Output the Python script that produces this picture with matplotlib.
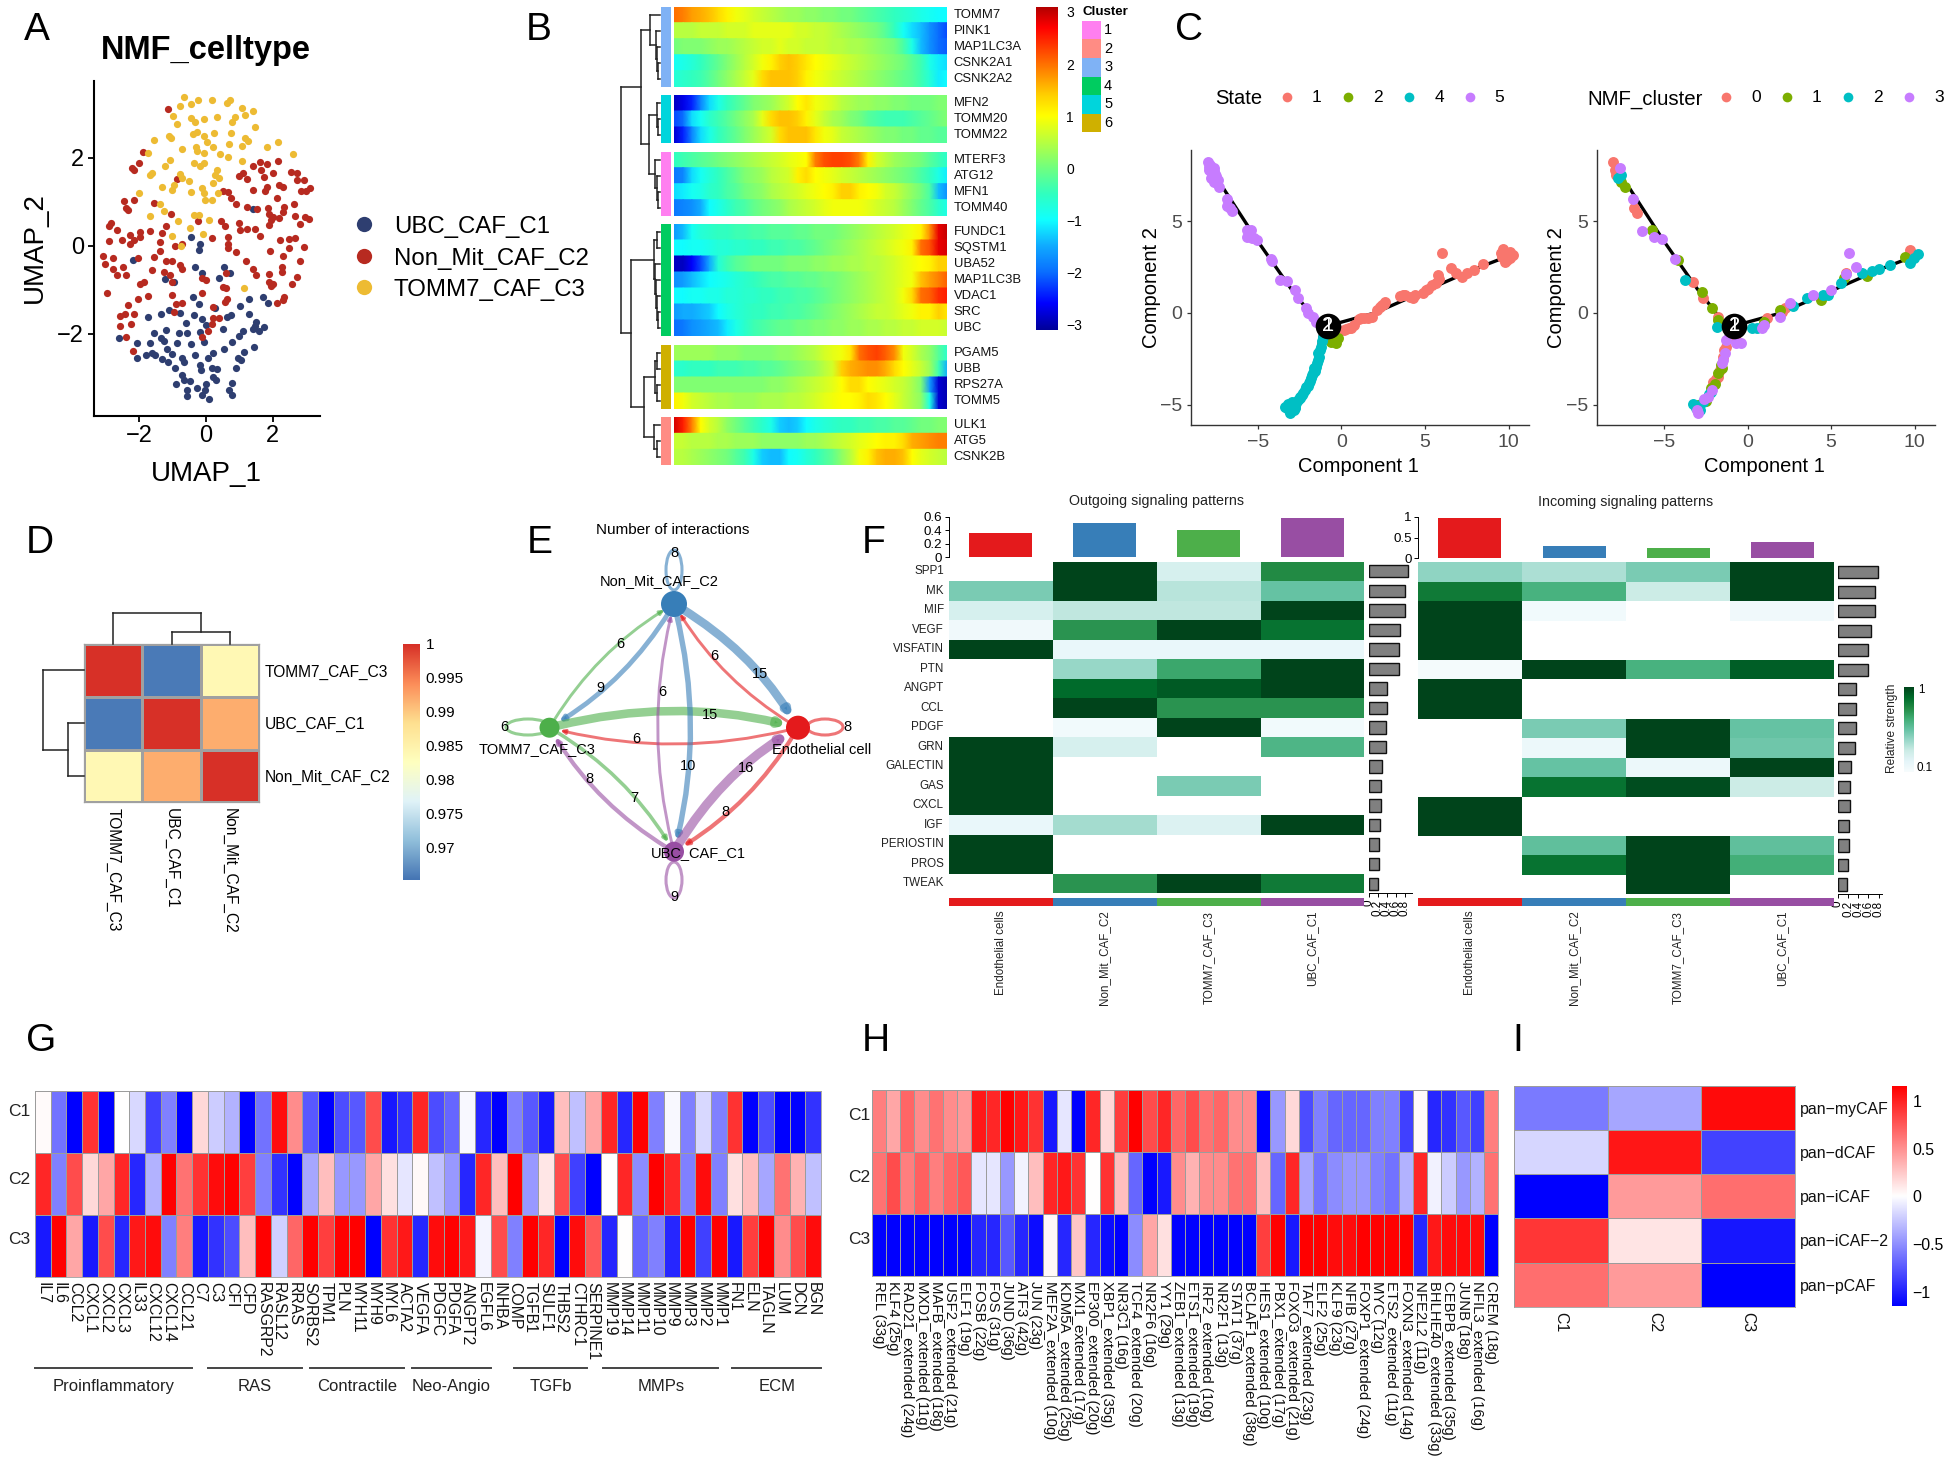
import numpy as np
import matplotlib
matplotlib.use('Agg')
import matplotlib.pyplot as plt
from matplotlib.colors import LinearSegmentedColormap, ListedColormap
from matplotlib.patches import FancyArrowPatch, Ellipse, Rectangle

plt.rcParams['font.family'] = ['Liberation Sans', 'DejaVu Sans']

W, H = 1949, 1464

# ---------- panel A ----------
umap_blue_x = [1.41,-.44,-.17,-.22,-2.17,-.33,-.13,.54,.38,.72,-1.22,-.96,-.40,1.70,1.29,1.86,-.22,1.01,-1.10,-1.35,-.77,-.37,1.29,-1.73,.28,.64,.76,-.11,-.60,-.01,1.50,1.47,1.74,1.41,1.59,.52,1.11,.99,-1.20,-1.55,-.80,-.58,-.19,-2.59,-1.34,-1.25,-2.06,-1.67,-.86,-.45,-.05,.79,-1.17,.53,1.43,-1.02,1.14,.22,-2.05,-1.79,-1.61,-1.52,-1.31,-1.14,-.72,-.66,-.34,.07,.97,1.05,-.92,-.19,-.15,.17,.34,.90,-.71,.22,.31,-.66,-.49,-.90,.77,.01,-.57,-.28,-.04,.70,-.57,-.13,.77,.08]
umap_blue_y = [.83,.19,.03,-.10,-.33,-.49,-.61,-.48,-.74,-.61,-.75,-.83,-1.16,-1.16,-1.22,-1.30,-1.33,-1.36,-1.46,-1.54,-1.52,-1.58,-1.54,-1.63,-1.42,-1.61,-1.58,-1.67,-1.75,-1.80,-1.73,-1.83,-1.84,-1.88,-1.93,-1.88,-1.93,-2.05,-1.92,-1.99,-1.98,-1.98,-1.97,-2.09,-2.09,-2.16,-2.20,-2.20,-2.22,-2.24,-2.18,-2.18,-2.35,-2.35,-2.30,-2.46,-2.41,-2.43,-2.56,-2.48,-2.43,-2.48,-2.58,-2.65,-2.56,-2.64,-2.48,-2.55,-2.54,-2.60,-2.78,-2.71,-2.83,-2.77,-2.81,-2.77,-2.94,-2.98,-3.04,-3.04,-3.07,-3.15,-3.11,-3.13,-3.27,-3.22,-3.27,-3.27,-3.42,-3.38,-3.39,-3.49]
umap_red_x = [-1.14,-1.88,-2.0,-2.22,-2.14,-.86,1.61,1.82,1.41,2.14,1.11,.99,1.23,1.64,1.74,2.0,2.53,2.73,2.71,2.92,2.18,2.30,1.82,1.76,1.41,3.10,2.85,3.0,.52,.67,.76,.90,2.12,2.63,-2.44,-2.14,-1.57,-2.38,-2.32,1.23,1.53,1.86,1.88,2.33,2.30,-1.05,2.0,2.18,1.94,1.88,2.65,2.95,3.09,2.80,-.25,.44,.58,.99,1.02,1.23,1.47,1.62,-2.85,-2.91,-2.67,-1.67,-1.96,-2.26,-1.96,-2.14,-2.89,-2.52,-2.26,-1.20,-1.31,-1.38,-.93,-.72,.19,.66,.67,.67,.91,2.2,2.47,2.65,2.47,2.92,1.91,2.30,2.80,1.20,-3.07,-2.79,-3.01,-2.79,-2.47,-2.67,-2.38,-2.02,-1.57,-1.37,-1.20,-1.02,-1.61,-.78,-.72,-1.25,-1.08,-1.87,-1.96,-1.02,-.13,-.01,.60,1.41,1.50,1.88,2.26,2.26,2.73,2.57,1.88,2.0,1.94,.52,.60,-2.97,-1.73,-2.02,-1.02,-.13,.64,.58,-2.32,-.72,-.90,2.33,2.30,2.12,.22,-.96,-2.58,-2.41,-2.14,-2.56,-2.24,-2.38,.22,.40,.17,.05,-.13,-2.17]
umap_red_y = [3.11,2.12,1.87,1.76,1.72,1.51,1.91,1.86,1.82,1.92,1.64,1.58,1.51,1.72,1.57,1.64,1.68,1.64,1.49,1.49,1.38,1.33,1.34,1.25,1.27,1.30,1.25,1.25,1.24,1.23,1.08,.95,1.08,.95,1.02,1.04,.98,.85,.80,.89,.83,.85,.73,.89,.77,.71,.66,.62,.58,.47,.67,.66,.60,.49,.57,.55,.45,.51,.36,.39,.37,.22,.52,.45,.36,.33,.30,.25,.19,.14,.11,.13,.03,.45,.28,.09,0,.05,.17,.2,.05,-.06,-.14,.14,.16,.17,-.06,-.04,-.11,-.23,-.34,-.34,-.23,-.27,-.42,-.52,-.49,-.67,-.67,-.29,-.25,-.11,-.34,-.34,-.55,-.44,-.54,-.59,-.67,-.82,-.86,-.82,-.74,-.77,-.63,-.52,-.67,-.64,-.48,-.59,-.72,-.86,-.82,-.86,-.92,-.93,-.97,-1.08,-1.14,-1.22,-1.12,-1.08,-1.2,-1.27,-1.35,-1.30,-1.33,-1.16,-1.23,-1.30,-1.39,-1.50,-1.60,-1.56,-1.55,-1.83,-1.78,-2.08,-1.65,-1.65,-1.77,-1.94,-2.08,-2.39]
umap_yellow_x = [-.66,-.78,-.46,-.25,.17,.62,.72,1.08,1.41,1.17,-.99,-.86,-.46,-.34,-.07,.34,.88,.79,1.47,-.40,-.27,.25,.76,-1.10,-1.04,-1.55,-.05,.02,.20,-.31,.70,1.17,1.27,1.08,1.81,2.15,-.72,-.28,-.05,.41,.67,1.08,2.60,-1.74,-1.09,-.37,-.06,-.19,-1.22,.32,.28,-1.69,-1.61,-.79,-.72,-.51,.40,.22,-1.31,-.96,-1.02,-2.0,-.44,-.11,-.07,.37,-1.37,-.04,.17,-1.25,-1.69,-.37,-.21,-.84,.08,-.49,-.08,-1.02,-.75,1.15]
umap_yellow_y = [3.37,3.18,3.21,3.31,3.30,3.23,3.31,3.12,3.05,2.97,2.95,2.77,2.89,2.81,2.88,2.92,2.92,2.82,2.70,2.54,2.58,2.55,2.55,2.49,2.45,2.39,2.48,2.36,2.23,2.25,2.31,2.44,2.37,2.27,2.23,2.36,2.19,2.14,2.11,2.08,2.02,1.92,2.08,2.11,1.94,1.87,1.87,1.82,1.80,1.72,1.61,1.61,1.66,1.63,1.53,1.48,1.53,1.43,1.34,1.38,1.27,1.20,1.21,1.30,1.19,1.20,.95,1.04,1.04,.78,.67,.70,.70,.56,.58,.41,.27,.22,-.01,-.97]
umap_names = ['UBC_CAF_C1', 'Non_Mit_CAF_C2', 'TOMM7_CAF_C3']
umap_colors = ['#2E3E70', '#B72A20', '#EDBB33']

# ---------- panel B ----------
pt_genes = ['TOMM7','PINK1','MAP1LC3A','CSNK2A1','CSNK2A2','MFN2','TOMM20','TOMM22','MTERF3','ATG12','MFN1','TOMM40',
            'FUNDC1','SQSTM1','UBA52','MAP1LC3B','VDAC1','SRC','UBC','PGAM5','UBB','RPS27A','TOMM5','ULK1','ATG5','CSNK2B']
pt_values = [
 [2,1.9,1.7,1.6,1.5,1.3,1.1,.9,.8,.7,.6,.5,.4,.3,.3,.2,.2,.1,.1,0,0,-.1,-.2,-.3,-.4,-.5,-.6,-.7,-.8,-.9,-1,-1],
 [.5,.5,.5,.6,.6,.6,.7,.7,.7,.8,.8,.8,.8,.8,.7,.7,.6,.6,.5,.4,.3,.2,.1,0,-.2,-.5,-.9,-1.2,-1.4,-1.7,-2,-2.2],
 [0,.1,.1,.1,.2,.3,.3,.4,.5,.6,.7,.7,.8,.7,.7,.6,.6,.6,.5,.5,.4,.4,.3,.2,.1,0,-.3,-.8,-1.4,-1.7,-2,-2.1],
 [-.9,-.8,-.7,-.5,-.3,-.1,.1,.3,.5,.7,.9,1.1,1.4,1.5,1.4,1.2,1,.9,.8,.7,.6,.5,.4,.3,.2,.1,0,-.2,-.4,-.8,-1.1,-1.2],
 [-.7,-.6,-.5,-.4,-.2,0,.2,.4,.6,.8,1.3,1.5,1.5,1.5,1.4,1.1,.9,.8,.7,.6,.5,.4,.3,.2,.1,0,-.1,-.2,-.4,-.7,-1.1,-1],
 [-2.9,-2.7,-2.4,-1.8,-1.2,-.8,-.5,-.3,-.1,.1,.2,.3,.5,.7,1,1.2,.9,.8,.7,.5,.4,.3,.3,.2,.2,.1,.1,0,0,0,.1,.1],
 [-2.2,-2,-1.2,-.9,-.6,-.4,-.2,0,.2,.4,.8,1.3,1.5,1.5,1.4,1.1,.8,.6,.4,.3,.1,0,-.2,-.3,-.4,-.4,-.4,-.3,-.2,-.1,0,.1],
 [-2.8,-2.4,-1.8,-1.2,-.8,-.5,-.3,-.1,.1,.3,.5,.7,1.3,1.5,1.5,1.5,1.2,.9,.8,.6,.5,.4,.3,.2,.1,.1,0,0,-.1,-.1,-.2,-.2],
 [-.5,-.4,-.3,-.2,-.1,0,.1,.2,.3,.4,.5,.6,.7,.8,.9,1,1.9,2.2,2.3,2.3,2.2,1.9,1.1,.7,.5,.3,.2,.1,0,-.2,-.4,-.6],
 [-1.9,-1.8,-1.2,-.9,-.7,-.5,-.3,-.1,.1,.2,.3,.5,.6,.7,1.1,1.3,1,.9,.8,.7,.6,.5,.4,.3,.2,.1,0,-.1,-.3,-.5,-.8,-1.1],
 [-1.2,-1.1,-.9,-.8,-.6,-.5,-.3,-.2,0,.1,.2,.4,.5,.6,.7,.8,.9,1,1.1,1.4,1.4,1.1,1,.9,.7,.6,.4,.2,0,-.3,-1.4,-1.7],
 [-1.9,-1.8,-1.7,-1.5,-1,-.8,-.6,-.4,-.3,-.1,0,.1,.2,.4,.5,.6,.7,.8,.9,.9,.9,.9,.8,.7,.6,.5,.3,.1,-.1,-.3,-.6,-.8],
 [-1.6,-1.4,-.9,-.7,-.6,-.5,-.5,-.4,-.4,-.3,-.3,-.2,-.2,-.2,-.1,-.1,0,0,0,.1,.2,.3,.4,.5,.6,.7,.8,.9,1.1,1.8,2.8,3],
 [-1,-1,-.9,-.9,-.8,-.7,-.7,-.6,-.6,-.5,-.5,-.4,-.4,-.3,-.3,-.2,-.1,0,.1,.2,.3,.4,.5,.6,.7,.8,.9,1.1,2,2.2,2.8,2.9],
 [-2.9,-2.9,-2.6,-2.2,-1.5,-.7,-.4,-.2,-.1,0,0,0,0,.1,.1,.1,.2,.2,.3,.3,.4,.4,.5,.5,.6,.7,.8,.9,1,1.1,1.4,1.4],
 [-1.7,-1.6,-1.4,-1.2,-1,-.9,-.8,-.7,-.6,-.5,-.4,-.3,-.3,-.2,-.2,-.1,-.1,0,0,.1,.2,.3,.4,.5,.6,.7,.8,.9,1.5,1.7,1.9,2.1],
 [-1,-1,-.9,-.9,-.8,-.8,-.7,-.7,-.6,-.6,-.5,-.5,-.4,-.4,-.3,-.3,-.2,-.1,0,.1,.2,.3,.4,.5,.6,.7,.9,1.3,2,2.1,2.4,2.5],
 [-1.6,-1.5,-1.5,-1.4,-1.3,-1,-.8,-.7,-.6,-.5,-.5,-.4,-.4,-.3,-.3,-.2,-.1,0,.1,.2,.3,.4,.5,.6,.6,.7,.8,.9,1.1,1.1,1.4,1.2],
 [-2,-1.9,-1.7,-1.6,-1.5,-1.4,-1.1,-.8,-.6,-.4,-.3,-.2,-.1,-.1,0,0,.1,.1,.2,.2,.3,.3,.4,.4,.5,.5,.6,.6,.7,.7,.7,.6],
 [.3,.3,.3,.3,.3,.2,.2,.2,.1,.1,.1,.1,.2,.2,.3,.4,.5,.7,.8,.9,1.2,2,2.2,2.3,2.1,1.8,.9,.7,.4,.2,-.2,-.6],
 [-.6,-.6,-.5,-.5,-.5,-.4,-.4,-.4,-.3,-.3,-.2,-.2,-.1,0,.1,.2,.3,.5,.7,1.4,1.6,1.7,1.8,1.8,1.6,1.3,1,.8,.6,.3,-.4,-1.5],
 [.1,.1,.1,.1,.1,.1,.1,.1,.1,.1,.1,.2,.2,.3,.4,.5,.6,.7,.8,1,1.3,1.3,1,.9,.8,.7,.6,.4,.1,-1.6,-2.8,-3],
 [1.1,.9,.7,.6,.5,.4,.4,.3,.3,.3,.4,.4,.4,.5,.5,.6,.7,.8,.9,1,1,1.1,1.3,1.2,1,.8,.6,.4,.2,-.8,-2.8,-3],
 [2.9,2.5,1.9,1,.7,.5,.2,0,-.2,-.4,-.6,-.8,-1.3,-1.4,-1.3,-1,-.8,-.7,-.6,-.5,-.5,-.4,-.4,-.3,-.3,-.2,-.2,-.1,0,0,.1,.1],
 [.6,.6,.5,.5,.5,.4,.4,.3,.3,.3,.2,.2,.2,.2,.2,.3,.3,.4,.5,.6,.7,.8,.9,1,1.1,1.1,1.3,1.6,1.7,1.8,1.9,1.9],
 [.5,.5,.4,.3,.2,.1,0,-.2,-.4,-.8,-1.3,-1.4,-1.4,-1,-.9,-.7,-.5,-.3,-.1,.2,.5,.9,1.1,1.5,1.6,1.6,1.5,1,.8,.7,.6,.5],
]
pt_blocks = [(0, 5, 6.7, '#7FB2F5'), (5, 8, 95, '#00D5DC'), (8, 12, 151.7, '#FF7FF0'),
             (12, 19, 224, '#00CC60'), (19, 23, 345, '#CFB000'), (23, 26, 417.3, '#FF8C84')]
cluster_ids = ['1', '2', '3', '4', '5', '6']
cluster_cols = ['#FF7FF0', '#FF8C84', '#7FB2F5', '#00CC60', '#00D5DC', '#CFB000']
# merge heights are in figure pixels
pt_tree = (621.4,
           (641, (650, 0, (656.4, 1, (657.1, 2, (658.2, 3, 4)))),
            (649.3, (657.1, 5, (658.2, 6, 7)), (655.4, 8, (657.1, 9, (658.2, 10, 11))))),
           (631.4, (653.6, (657.1, 12, 13), (655.4, 14, (656.4, 15, (657.1, 16, (658.2, 17, 18))))),
            (643.6, (655.4, (657.1, 19, 20), (657.1, 21, 22)), (654.3, 23, (657.1, 24, 25)))))

# ---------- panel C ----------
state1_x = [.15,.46,.76,1.07,1.38,1.83,2.14,2.45,2.6,3.5,3.82,4.28,4.43,4.9,5.05,5.66,5.8,6.02,6.57,6.88,7.19,7.5,7.95,8.47,9.63,9.69,9.79,9.94,10.09,10.24,9.88,9.57,.3,.6,1.2,1.6,2.3,2.55,9.75,9.9,10.1,9.7,5.2,5.4,5.85,3.7,4.1]
state1_y = [-.93,-.84,-.65,-.35,-.29,-.2,.16,.44,.62,.9,.98,.8,.98,1.07,1.25,1.62,2.07,3.25,2.44,2.16,1.98,2.2,2.35,2.65,3.07,3.47,2.8,3.25,2.98,3.16,3.07,3.25,-.9,-.8,-.3,-.25,.3,.5,3.1,2.9,3.3,3.25,1.3,1.5,1.85,.95,.85]
state2_x = [-.46,-.31,-.61,-.21,-.76]
state2_y = [-1.47,-1.65,-1.56,-1.38,-1.29]
state4_x = [-1.13,-1.22,-1.38,-1.44,-1.68,-1.83,-2.14,-2.29,-2.6,-2.9,-3.21,-2.75,-3.06,-3.36,-2.97,-3.27,-1.62,-1.93,-2.45,-1.17,-1.3,-1.35,-1.4,-1.5,-1.55,-1.75,-1.9,-2.0,-2.2,-2.35,-2.5,-2.7,-2.8,-2.85,-3.15,-3.0,-3.1]
state4_y = [-1.29,-1.84,-2.2,-2.75,-3.29,-3.56,-4.02,-4.38,-4.75,-5.02,-4.93,-5.2,-5.47,-5.11,-4.84,-5.2,-3.02,-3.84,-4.56,-1.55,-2.0,-2.4,-2.55,-2.95,-3.15,-3.4,-3.7,-3.95,-4.2,-4.45,-4.65,-4.9,-5.1,-5.3,-5.3,-5.2,-5.1]
state5_x = [-8.0,-7.86,-7.65,-7.95,-7.74,-7.5,-7.8,-7.4,-7.65,-7.34,-6.82,-6.82,-6.57,-6.64,-5.66,-5.41,-5.66,-5.35,-5.05,-4.22,-4.13,-3.67,-3.27,-2.75,-2.6,-2.14,-1.99,-1.68,-1.53,-7.9,-7.6,-7.7,-7.55,-7.45,-5.55,-5.2,-5.5]
state5_y = [8.2,8.07,7.9,7.8,7.6,7.45,7.35,7.25,7.15,6.84,6.2,5.8,5.53,5.7,4.53,4.53,4.16,4.07,3.98,2.93,2.85,1.8,1.76,1.25,.8,.25,-.02,-.2,-.47,7.95,7.7,7.4,7.55,7.05,4.35,4.1,4.3]
nmf0_x = [-8.07,-7.95,-7.86,-6.79,-6.64,-3.27,-2.66,-1.74,-.67,-1.28,-1.44,-1.74,1.16,2.23,5.9,9.72,-2.05,2.08,-1.4,-1.65,-1.9]
nmf0_y = [8.2,7.8,7.53,5.7,5.44,1.7,.8,-.2,-1.47,-1.84,-2.38,-3.47,-.29,.25,2.16,3.44,-3.75,.07,-2.0,-3.1,-3.6]
nmf1_x = [-7.34,-7.55,-5.72,-4.19,-2.75,-2.14,-1.74,-1.59,-1.74,-2.2,-2.97,1.01,1.93,4.37,7.13,9.42,5.75,-1.55,-1.95,-2.5]
nmf1_y = [6.85,7.11,4.53,2.89,1.16,.25,-.38,-2.84,-3.29,-4.11,-5.02,-.47,.16,.71,2.02,3.07,1.89,-3.0,-3.85,-4.8]
nmf2_x = [-7.55,-7.77,-3.73,.24,.55,-2.2,-2.66,-3.27,-2.87,2.69,3.55,4.53,4.83,5.6,6.82,7.43,7.89,8.5,9.72,9.97,10.18,-1.8,-2.3,-2.95,-3.1]
nmf2_y = [7.53,7.35,1.8,-.84,-.84,-4.29,-4.84,-4.96,-5.29,.38,.8,.98,.98,1.62,2.16,2.31,2.38,2.62,2.71,2.98,3.22,-.75,-4.4,-5.1,-5.2]
nmf3_x = [-7.65,-6.85,-6.33,-5.57,-5.11,-4.34,-.67,-.37,-1.28,-1.44,-2.35,-2.97,1.01,1.93,2.54,3.91,4.98,6.06,6.51,5.9,.86,-1.35,-1.5,-2.6,-3.0,-2.15]
nmf3_y = [7.89,6.2,4.44,4.13,4.02,2.93,-1.65,-1.65,-1.47,-2.56,-4.56,-5.47,-.65,-.2,.56,.98,1.25,3.25,2.49,2.13,-.84,-2.2,-2.75,-4.7,-5.3,-4.2]
traj_up_x = [-7,-5,-3,-1.2]
traj_up_y = [6.7,3.9,1.3,-.8]
traj_right_x = [-1.2,0,2,4,6,8,10]
traj_right_y = [-.8,-.5,0,.8,1.6,2.4,3.1]
traj_down_x = [-1.2,-1.5,-2.1,-3]
traj_down_y = [-.8,-2.8,-4,-5.1]
state_cols = ['#F8766D', '#7CAE00', '#00BFC4', '#C77CFF']
state_names = ['1', '2', '4', '5']
nmf_names = ['0', '1', '2', '3']
branch_x, branch_y = -.8, -.7

# ---------- panel D ----------
corr_names = ['TOMM7_CAF_C3', 'UBC_CAF_C1', 'Non_Mit_CAF_C2']
corr_values = [[1, .966, .984], [.966, 1, .992], [.984, .992, 1]]
corr_ticks = [1, .995, .99, .985, .98, .975, .97]
corr_top_tree = (613, 0, (632, 1, 2))
corr_left_tree = (43, 0, (67.6, 1, 2))

# ---------- panel E ----------
node_names = ['Non_Mit_CAF_C2', 'TOMM7_CAF_C3', 'Endothelial cell', 'UBC_CAF_C1']
node_cols = ['#377EB8', '#4DAF4A', '#E41A1C', '#984EA3']
edge_src = [0, 1, 0, 2, 1, 2, 0, 3, 1, 3, 3, 2]
edge_dst = [1, 0, 2, 0, 2, 1, 3, 0, 3, 1, 2, 3]
edge_n = [9, 6, 15, 6, 15, 6, 10, 6, 7, 8, 16, 8]
loop_n = [8, 6, 8, 9]

# ---------- panel F ----------
sig_names = ['SPP1','MK','MIF','VEGF','VISFATIN','PTN','ANGPT','CCL','PDGF','GRN','GALECTIN','GAS','CXCL','IGF','PERIOSTIN','PROS','TWEAK']
sig_groups = ['Endothelial cells', 'Non_Mit_CAF_C2', 'TOMM7_CAF_C3', 'UBC_CAF_C1']
n = np.nan
out_matrix = [[n,1,.2,.75],[.45,1,.3,.5],[.2,.28,.28,1],[.05,.72,1,.85],[1,.1,.1,.1],[n,.38,.65,1],[n,.88,.93,1],[n,1,.72,.72],
              [n,.04,1,.04],[1,.2,n,.58],[1,n,n,n],[1,n,.45,n],[1,n,n,n],[.1,.35,.17,1],[1,n,n,n],[1,n,n,n],[n,.72,1,.82]]
in_matrix = [[.4,.33,.45,1],[.82,.6,.25,1],[1,.04,n,.05],[1,n,n,n],[1,n,n,n],[.02,1,.6,.92],[1,n,n,n],[1,n,n,n],
             [n,.45,1,.5],[n,.08,1,.48],[n,.5,.08,1],[n,.85,.97,.25],[1,n,n,n],[1,n,n,n],[n,.52,1,.52],[n,.85,1,.62],[n,n,1,n]]
out_top = [.355, .50, .40, .585]
in_top = [.96, .30, .256, .38]
out_side = [.86,.81,.80,.70,.67,.66,.40,.40,.39,.385,.30,.28,.265,.26,.23,.225,.21]
in_side = [.78,.73,.73,.645,.60,.60,.365,.365,.35,.345,.267,.245,.24,.225,.21,.196,.18]
sig_cols = ['#E41A1C', '#377EB8', '#4DAF4A', '#984EA3']

# ---------- panel G ----------
g_genes = ['IL7','IL6','CCL2','CXCL1','CXCL2','CXCL3','IL33','CXCL12','CXCL14','CCL21','C7','C3','CFI','CFD','RASGRP2','RASL12','RRAS','SORBS2',
           'TPM1','PLN','MYH11','MYH9','MYL6','ACTA2','VEGFA','PDGFC','PDGFA','ANGPT2','EGFL6','INHBA','COMP','TGFB1','SULF1','THBS2','CTHRC1',
           'SERPINE1','MMP19','MMP14','MMP11','MMP10','MMP9','MMP3','MMP2','MMP1','FN1','ELN','TAGLN','LUM','DCN','BGN']
g_c1 = [.02,-.55,-1,.8,-1,0,-.15,-.75,-.5,-1,.15,-.2,-.3,-1,-.55,.95,.45,-.65,-1,-.7,-.65,.7,-.9,-.8,.85,-.7,-.6,-.03,-.85,-1,-.5,-.65,-.9,.25,-.25,.35,.85,-.85,1,-.5,-.03,-.5,-.15,-.5,.8,-1,-.7,-1,-1,-.8]
g_c2 = [.85,-.5,.7,.15,.35,.85,-.85,-.3,1,.55,.8,.95,1,.75,-.5,-.8,-1,-.35,.25,-.4,-.4,.35,.12,-.1,.03,-.25,-.4,-.85,.85,.25,1,-.4,.1,.7,-.75,-1,0,.85,-.45,1,.85,-.5,.95,-.5,.12,.25,-.35,.55,.3,-.25]
g_c3 = [-.9,1,.35,-.9,.7,-.85,.9,.95,-.5,.5,-.9,-.8,-.7,.25,1,-.18,.6,1,.75,1,1,-1,.8,.9,-.85,.95,1,.9,-.04,.7,-.5,1,.85,-1,.95,.65,-.85,0,-.6,-.5,-.85,1,-.75,1,-.9,.75,1,.45,.7,.95]
g_group_names = ['Proinflammatory', 'RAS', 'Contractile', 'Neo-Angio', 'TGFb', 'MMPs', 'ECM']
g_group_start = [35, 207.7, 310, 411.7, 514.3, 603.3, 732.3]
g_group_end = [191.7, 302.3, 404, 490.7, 586.7, 718.3, 821]

# ---------- panel H ----------
h_tfs = ['REL (33g)','KLF4 (25g)','RAD21_extended (24g)','MXD1_extended (11g)','MAFB_extended (18g)','USF2_extended (21g)','ELF1 (19g)','FOSB (22g)','FOS (31g)',
         'JUND (36g)','ATF3 (42g)','JUN (23g)','MEF2A_extended (10g)','KDM5A_extended (25g)','MXI1_extended (17g)','EP300_extended (20g)','XBP1_extended (35g)','NR3C1 (16g)',
         'TCF4_extended (20g)','NR2F6 (16g)','YY1 (29g)','ZEB1_extended (13g)','ETS1_extended (19g)','IRF2_extended (10g)','NR2F1 (13g)','STAT1 (37g)','BCLAF1_extended (38g)',
         'HES1_extended (10g)','PBX1_extended (17g)','FOXO3_extended (21g)','TAF7_extended (23g)','ELF2 (25g)','KLF9 (23g)','NFIB (27g)','FOXP1_extended (24g)','MYC (12g)',
         'ETS2_extended (11g)','FOXN3_extended (14g)','NFE2L2 (11g)','BHLHE40_extended (33g)','CEBPB_extended (35g)','JUNB (18g)','NFIL3_extended (16g)','CREM (18g)']
h_c1 = [.5,.35,.6,.45,.55,.45,.4,.9,.85,1,.9,.8,-.9,-.1,-1,.85,.15,.75,1,.7,.85,.6,.7,.55,.6,.45,.45,-1,-.4,.15,-.7,-.5,-.6,-.6,-.6,-.5,-.5,-.75,.02,-.85,-.8,-.65,-.75,.5]
h_c2 = [.55,.7,.5,.62,.5,.6,.65,-.1,-.1,-.4,-.05,.25,.85,.9,.8,0,.8,.25,-.6,-1,-.9,.45,.3,.45,.45,.55,.55,.25,-.6,.85,-.35,-.55,-.45,-.4,-.4,-.5,-.55,-.3,.85,-.05,-.2,-.4,-.3,.55]
h_c3 = [-1,-1,-1,-1,-1,-1,-1,-.85,-.85,-.65,-.85,-.95,.03,-.85,.22,-.85,-.95,-1,-.45,.35,.12,-1,-1,-1,-1,-1,-1,.75,1,-.9,1,1,.95,.95,1,1,1,1,-.85,.9,.95,.95,.95,-1]

# ---------- panel I ----------
i_rows = ['pan\u2212myCAF', 'pan\u2212dCAF', 'pan\u2212iCAF', 'pan\u2212iCAF\u22122', 'pan\u2212pCAF']
i_cols = ['C1', 'C2', 'C3']
i_values = [[-.6,-.4,1.1],[-.18,1.05,-.85],[-1.15,.45,.65],[.9,.12,-1.05],[.65,.45,-1.15]]
i_ticks = [1, .5, 0, -.5, -1]
i_tick_labels = ['1', '0.5', '0', '\u22120.5', '\u22121']


def pax(x0, y0, x1, y1, **kw):
    # axes from figure pixels, y counted from the top
    return fig.add_axes([x0 / W, 1 - y1 / H, (x1 - x0) / W, (y1 - y0) / H], **kw)


def walk_tree(node, leaf_pos, leaf_h, segs):
    if isinstance(node, int):
        return leaf_pos[node], leaf_h
    h, left, right = node
    c1, h1 = walk_tree(left, leaf_pos, leaf_h, segs)
    c2, h2 = walk_tree(right, leaf_pos, leaf_h, segs)
    segs.append(((h1, c1), (h, c1)))
    segs.append(((h2, c2), (h, c2)))
    segs.append(((h, c1), (h, c2)))
    return (c1 + c2) / 2, h


def draw_tree(node, leaf_pos, leaf_h, horizontal=True, color='#222222', lw=1.1):
    segs = []
    walk_tree(node, leaf_pos, leaf_h, segs)
    for a, b in segs:
        if horizontal:
            ov.plot([a[0], b[0]], [a[1], b[1]], color=color, lw=lw, solid_capstyle='projecting')
        else:
            ov.plot([a[1], b[1]], [a[0], b[0]], color=color, lw=lw, solid_capstyle='projecting')


def grid_heat(rect, values, cmap, vmin, vmax, edge='#9C9C9C', lw=.6):
    ax = pax(*rect)
    ax.pcolormesh(np.array(values, dtype=float), cmap=cmap, vmin=vmin, vmax=vmax, edgecolors=edge, linewidth=lw)
    ax.invert_yaxis()
    for s in ax.spines.values():
        s.set_color(edge)
        s.set_linewidth(lw)
    ax.set_xticks([])
    ax.set_yticks([])
    return ax


def gradient_bar(rect, cmap, vmin, vmax):
    ax = pax(*rect)
    ax.imshow(np.linspace(vmax, vmin, 256)[:, None], cmap=cmap, vmin=vmin, vmax=vmax, aspect='auto',
              extent=[0, 1, vmin, vmax])
    ax.set_xticks([])
    ax.set_yticks([])
    for s in ax.spines.values():
        s.set_visible(False)
    return ax


fig = plt.figure(figsize=(W / 100, H / 100), dpi=100)
ov = fig.add_axes([0, 0, 1, 1], zorder=10)
ov.set_xlim(0, W)
ov.set_ylim(H, 0)
ov.axis('off')
ov.patch.set_alpha(0)

for ch, x, y in [('A', 24, 30), ('B', 526, 30), ('C', 1175, 30), ('D', 26, 543), ('E', 527, 543),
                 ('F', 862, 543), ('G', 26, 1041), ('H', 862, 1041), ('I', 1512, 1041)]:
    ov.text(x, y, ch, fontsize=28, ha='left', va='center')

# A
ax = pax(93.7, 81, 320, 415.7)
for xs, ys, c in zip([umap_blue_x, umap_red_x, umap_yellow_x], [umap_blue_y, umap_red_y, umap_yellow_y], umap_colors):
    ax.scatter(xs, ys, s=27, color=c, linewidths=0)
ax.set_xlim(-3.36, 3.41)
ax.set_ylim(-3.86, 3.74)
ax.set_xticks([-2, 0, 2])
ax.set_yticks([-2, 0, 2])
ax.tick_params(labelsize=17, width=1.3, length=4, pad=3)
ax.spines[['top', 'right']].set_visible(False)
ax.spines[['left', 'bottom']].set_linewidth(1.5)
ov.text(206, 51, 'NMF_celltype', fontsize=23.5, fontweight='bold', ha='center', va='center')
ov.text(206, 474, 'UMAP_1', fontsize=20, ha='center', va='center')
ov.text(35, 248, 'UMAP_2', fontsize=20, rotation=90, ha='center', va='center')
for name, c, y in zip(umap_names, umap_colors, [224, 256, 287]):
    ov.plot([364], [y], 'o', ms=11, color=c, mew=0)
    ov.text(394, y + 3, name, fontsize=17.3, va='center')

# B
pt_cmap = LinearSegmentedColormap.from_list('pt', [((v + 3.1) / 6.2, c) for v, c in [
    (-3.1, '#00009A'), (-2.6, '#0000FF'), (-2, '#0A6EFF'), (-1.5, '#10AAFF'), (-1, '#10FFFF'), (-.5, '#30FFC0'),
    (0, '#70FF80'), (.5, '#B8FF40'), (1, '#FFFF00'), (1.4, '#FFD000'), (1.8, '#FF9000'), (2.3, '#FF4000'),
    (2.7, '#FF0000'), (3.1, '#B00000')]])
row_h = 16
pt_cols = np.arange(32) + .5
pt_leaf = {}
for start, stop, top, col in pt_blocks:
    bottom = top + row_h * (stop - start)
    ax = pax(674.3, top, 947.5, bottom)
    for r, i in enumerate(range(start, stop)):
        # gouraud per row: smooth along pseudotime, sharp between genes
        X, Y = np.meshgrid(pt_cols, [r, r + 1])
        ax.pcolormesh(X, Y, np.array([pt_values[i], pt_values[i]]), cmap=pt_cmap, vmin=-3.1, vmax=3.1, shading='gouraud')
    ax.set_xlim(.5, 31.5)
    ax.set_ylim(stop - start, 0)
    ax.axis('off')
    ov.add_patch(Rectangle((660.7, top), 10, bottom - top, color=col, lw=0))
    for i in range(start, stop):
        yc = top + row_h * (i - start + .5)
        pt_leaf[i] = yc
        ov.text(953.6, yc, pt_genes[i], fontsize=9.4, va='center', color='#111111')
draw_tree(pt_tree, pt_leaf, 660)
ax = gradient_bar((1036, 6.7, 1058, 330), pt_cmap, -3.1, 3.1)
ax.yaxis.tick_right()
ax.set_yticks([3, 2, 1, 0, -1, -2, -3])
ax.set_yticklabels(['3', '2', '1', '0', '\u22121', '\u22122', '\u22123'])
ax.tick_params(length=0, labelsize=10, pad=6)
ov.text(1083, 12, 'Cluster', fontsize=9.6, fontweight='bold', va='center')
for i, (cid, c) in enumerate(zip(cluster_ids, cluster_cols)):
    ov.add_patch(Rectangle((1082, 20.7 + 18.6 * i), 18.7, 18.6, color=c, lw=0))
    ov.text(1104, 30 + 18.6 * i, cid, fontsize=10.5, va='center')

# C
for rect, series, cols in [
    ((1190.8, 150, 1528.6, 425),
     [(state1_x, state1_y), (state2_x, state2_y), (state4_x, state4_y), (state5_x, state5_y)], state_cols),
    ((1597, 150, 1934.7, 425),
     [(nmf0_x, nmf0_y), (nmf1_x, nmf1_y), (nmf2_x, nmf2_y), (nmf3_x, nmf3_y)], state_cols)]:
    ax = pax(*rect)
    ax.plot(traj_up_x, traj_up_y, color='black', lw=2.4, zorder=1)
    ax.plot(traj_right_x, traj_right_y, color='black', lw=2.4, zorder=1)
    ax.plot(traj_down_x, traj_down_y, color='black', lw=2.4, zorder=1)
    for (xs, ys), c in zip(series, cols):
        ax.scatter(xs, ys, s=62, color=c, linewidths=0, zorder=2)
    ax.scatter([branch_x], [branch_y], s=340, color='black', zorder=3, linewidths=0)
    for lab in ['2', '1']:
        ax.text(branch_x, branch_y, lab, color='white', fontsize=14.5, ha='center', va='center', zorder=4)
    ax.set_xlim(-9.01, 11.2)
    ax.set_ylim(-6.1, 8.87)
    ax.set_xticks([-5, 0, 5, 10])
    ax.set_yticks([-5, 0, 5])
    ax.tick_params(labelsize=14, labelcolor='#4D4D4D', color='#333333', width=.9, length=3)
    ax.spines[['top', 'right']].set_visible(False)
    ax.spines[['left', 'bottom']].set_color('#333333')
    ax.spines[['left', 'bottom']].set_linewidth(1)
ov.text(1358, 466, 'Component 1', fontsize=14.5, ha='center', va='center')
ov.text(1764, 466, 'Component 1', fontsize=14.5, ha='center', va='center')
ov.text(1152, 288, 'Component 2', fontsize=14.5, rotation=90, ha='center', va='center')
ov.text(1557, 288, 'Component 2', fontsize=14.5, rotation=90, ha='center', va='center')
ov.text(1215, 99, 'State', fontsize=14.5, va='center')
ov.text(1587, 99, 'NMF_cluster', fontsize=14.7, va='center')
for names, dots, labs in [(state_names, [1286.7, 1348, 1408.7, 1470], [1317, 1378, 1439, 1499.5]),
                          (nmf_names, [1726.5, 1787, 1848, 1908.7], [1756.6, 1817, 1878, 1939])]:
    for name, c, dx, lx in zip(names, state_cols, dots, labs):
        ov.plot([dx], [97], 'o', ms=7, color=c, mew=0)
        ov.text(lx, 98, name, fontsize=12.5, ha='center', va='center')

# D
corr_cmap = LinearSegmentedColormap.from_list('corr', ['#4575B4', '#91BFDB', '#E0F3F8', '#FFFFBF', '#FEE090', '#FC8D59', '#D73027'])
ax = grid_heat((84, 644, 258.8, 802.3), corr_values, corr_cmap, .9655, 1.0, edge='#A0A0A0', lw=.9)
ax.yaxis.tick_right()
ax.set_yticks([.5, 1.5, 2.5])
ax.set_yticklabels(corr_names)
ax.set_xticks([.5, 1.5, 2.5])
ax.set_xticklabels(corr_names, rotation=270, ha='center', va='top')
ax.tick_params(length=0, labelsize=11.2, pad=4)
draw_tree(corr_top_tree, {0: 113, 1: 172, 2: 229.7}, 644, horizontal=False)
draw_tree(corr_left_tree, {0: 670.4, 1: 723, 2: 776}, 84)
ax = gradient_bar((402.7, 644, 418.7, 880), corr_cmap, .9652, 1.0)
ax.yaxis.tick_right()
ax.set_yticks(corr_ticks)
ax.set_yticklabels(['1', '0.995', '0.99', '0.985', '0.98', '0.975', '0.97'])
ax.tick_params(length=0, labelsize=11, pad=5)

# E
node_xy = [(674, 604), (549.5, 727.7), (798, 727.7), (674, 851.7)]
node_r = [13, 10, 12, 10]
for s, d, cnt in zip(edge_src, edge_dst, edge_n):
    ov.add_patch(FancyArrowPatch(node_xy[s], node_xy[d], connectionstyle='arc3,rad=-0.13', arrowstyle='-|>',
                                 mutation_scale=6, lw=.45 * cnt - .6, color=node_cols[s], alpha=.6,
                                 shrinkA=6, shrinkB=8, zorder=2))
for lx, ly, rx, ry, c in zip([674, 528, 825, 674], [570, 727, 727, 880], [8, 22, 18, 8], [20, 8, 8, 18], node_cols):
    ov.add_patch(Ellipse((lx, ly), rx * 2, ry * 2, fill=False, edgecolor=c, alpha=.6, lw=2.2, zorder=2))
for (x, y), r, c in zip(node_xy, node_r, node_cols):
    ov.add_patch(Ellipse((x, y), r * 2, r * 2, color=c, lw=0, zorder=3))
edge_label_xy = [(600.5, 688), (620, 644), (760, 674), (714, 656), (710, 715), (636, 739),
                 (688, 766), (662, 692), (634.6, 798), (589, 779), (746, 768), (725, 812)]
for cnt, (x, y) in zip(edge_n, edge_label_xy):
    ov.text(x, y, str(cnt), fontsize=10.5, ha='center', va='center', zorder=5)
for cnt, (x, y) in zip(loop_n, [(674, 553), (504, 727), (847, 727), (674, 897)]):
    ov.text(x, y, str(cnt), fontsize=10.5, ha='center', va='center', zorder=5)
ov.text(659, 581, node_names[0], fontsize=10.5, ha='center', va='center', zorder=5)
ov.text(537, 749, node_names[1], fontsize=10.5, ha='center', va='center', zorder=5)
ov.text(772, 750, node_names[2], fontsize=10.5, ha='left', va='center', zorder=5)
ov.text(698, 853, node_names[3], fontsize=10.5, ha='center', va='center', zorder=5)
ov.text(673, 530, 'Number of interactions', fontsize=11, ha='center', va='center')

# F
for matrix, top_vals, side_vals, cfg in [
    (out_matrix, out_top, out_side, dict(hx0=948.6, hx1=1364.5, hy0=561.7, hy1=893.3, ty0=516.7, ty1=557.3, tmax=.6,
                                         tticks=[0, .2, .4, .6], tlabs=['0', '0.2', '0.4', '0.6'], sx0=1368.6, sx1=1412, smax=.954)),
    (in_matrix, in_top, in_side, dict(hx0=1417.9, hx1=1834.3, hy0=562.3, hy1=894.3, ty0=516.7, ty1=558.3, tmax=1,
                                      tticks=[0, .5, 1], tlabs=['0', '0.5', '1'], sx0=1837.9, sx1=1882, smax=.866))]:
    ax = pax(cfg['hx0'], cfg['hy0'], cfg['hx1'], cfg['hy1'])
    ax.pcolormesh(np.array(matrix, dtype=float), cmap='BuGn', vmin=0, vmax=1)
    ax.invert_yaxis()
    ax.axis('off')
    ax = pax(cfg['hx0'], cfg['ty0'], cfg['hx1'], cfg['ty1'])
    ax.bar(np.arange(4) + .5, top_vals, width=.605, color=sig_cols)
    ax.set_xlim(0, 4)
    ax.set_ylim(0, cfg['tmax'])
    ax.set_xticks([])
    ax.set_yticks(cfg['tticks'])
    ax.set_yticklabels(cfg['tlabs'])
    ax.tick_params(labelsize=9.6, length=3, width=.7, pad=1.5)
    ax.spines[['top', 'right', 'bottom']].set_visible(False)
    ax.spines['left'].set_linewidth(.7)
    ax.patch.set_alpha(0)
    ax = pax(cfg['sx0'], cfg['hy0'], cfg['sx1'], cfg['hy1'])
    ax.barh(np.arange(17) + .5, side_vals, height=.62, color='#808080', edgecolor='#111111', linewidth=1)
    ax.set_ylim(17, 0)
    ax.set_xlim(0, cfg['smax'])
    ax.set_yticks([])
    ax.set_xticks([0, .2, .4, .6, .8])
    ax.set_xticklabels(['0', '0.2', '0.4', '0.6', '0.8'], rotation=90)
    ax.tick_params(labelsize=8.4, length=3, width=.7, pad=1.5)
    ax.spines[['top', 'right', 'left']].set_visible(False)
    ax.spines['bottom'].set_linewidth(.7)
    ax = pax(cfg['hx0'], 897.7, cfg['hx1'], 906)
    ax.pcolormesh(np.array([[0, 1, 2, 3]]), cmap=ListedColormap(sig_cols))
    ax.axis('off')
    cell = (cfg['hx1'] - cfg['hx0']) / 4
    for i, name in enumerate(sig_groups):
        ov.text(cfg['hx0'] + cell * (i + .5), 910.7, name, fontsize=8.4, rotation=90, ha='center', va='top', color='#222222')
for i, name in enumerate(sig_names):
    ov.text(943.8, 561.7 + 19.5 * (i + .5), name, fontsize=8.4, ha='right', va='center', color='#222222')
ov.text(1156.6, 500.7, 'Outgoing signaling patterns', fontsize=10.3, ha='center', va='center', color='#222222')
ov.text(1625.7, 501.7, 'Incoming signaling patterns', fontsize=10.3, ha='center', va='center', color='#222222')
ax = gradient_bar((1904.3, 686.7, 1913.6, 771.7), 'BuGn', 0, 1)
ov.text(1891.8, 728, 'Relative strength', fontsize=8.6, rotation=90, ha='center', va='center', color='#222222')
ov.text(1918, 690, '1', fontsize=8.4, va='center')
ov.text(1917, 767.7, '0.1', fontsize=8.4, va='center')

# G and H
bwr_cmap = LinearSegmentedColormap.from_list('bwr2', ['#0000FF', '#FFFFFF', '#FF0000'])
ax = grid_heat((35, 1091, 821, 1276.7), [g_c1, g_c2, g_c3], bwr_cmap, -1, 1)
ax.set_xticks(np.arange(len(g_genes)) + .5)
ax.set_xticklabels(g_genes, rotation=270, ha='center', va='top')
ax.tick_params(length=0, labelsize=11.4, pad=4, labelcolor='#111111')
for lab, y in zip(['C1', 'C2', 'C3'], [1111, 1179, 1240]):
    ov.text(30, y, lab, fontsize=12.5, ha='right', va='center', color='#222222')
for name, x0, x1 in zip(g_group_names, g_group_start, g_group_end):
    ov.plot([x0, x1], [1367.7, 1367.7], color='#444444', lw=1.4)
    ov.text((x0 + x1) / 2, 1386.7, name, fontsize=12, ha='center', va='center', color='#222222')

ax = grid_heat((871.7, 1090, 1498.3, 1276), [h_c1, h_c2, h_c3], bwr_cmap, -1, 1)
ax.set_xticks(np.arange(len(h_tfs)) + .5)
ax.set_xticklabels(h_tfs, rotation=270, ha='center', va='top')
ax.tick_params(length=0, labelsize=10.7, pad=3.4, labelcolor='#111111')
for lab, y in zip(['C1', 'C2', 'C3'], [1115, 1178, 1240]):
    ov.text(870.7, y, lab, fontsize=12.5, ha='right', va='center', color='#222222')

# I
ax = grid_heat((1514, 1086, 1795, 1306.7), i_values, bwr_cmap, -1.15, 1.15)
ax.yaxis.tick_right()
ax.set_yticks(np.arange(5) + .5)
ax.set_yticklabels(i_rows)
ax.set_xticks([.5, 1.5, 2.5])
ax.set_xticklabels(i_cols, rotation=270, ha='center', va='top')
ax.tick_params(length=0, labelsize=11.4, pad=3.6, labelcolor='#111111')
ax = gradient_bar((1892.3, 1086, 1906.7, 1306), bwr_cmap, -1.15, 1.16)
ax.yaxis.tick_right()
ax.set_yticks(i_ticks)
ax.set_yticklabels(i_tick_labels)
ax.tick_params(length=0, labelsize=11.4, pad=4)

fig.savefig('out.png', dpi=100)
